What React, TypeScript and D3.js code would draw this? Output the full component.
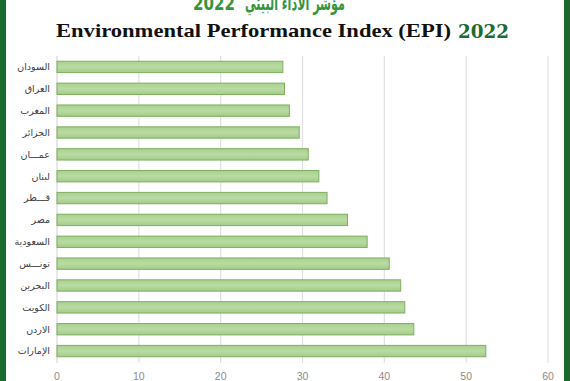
import React from "react";
import * as d3 from "d3";

const categories = [
  "السودان",
  "العراق",
  "المغرب",
  "الجزائر",
  "عمـــان",
  "لبنان",
  "قـــطر",
  "مصر",
  "السعودية",
  "تونـــس",
  "البحرين",
  "الكويت",
  "الاردن",
  "الإمارات",
];
const values = [27.6, 27.8, 28.4, 29.6, 30.7, 32.0, 33.0, 35.5, 37.9, 40.6, 42.0, 42.5, 43.6, 52.4];
const xTicks = [0, 10, 20, 30, 40, 50, 60];
const titleEn = "Environmental Performance Index (EPI)";
const titleYear = "2022";
const titleAr = "مؤشر الأداء البيئي";

export default function App() {
  const W = 570;
  const H = 381;
  const x = d3.scaleLinear().domain([0, 60]).range([57, 548]);
  const y = d3
    .scaleBand<string>()
    .domain(categories)
    .range([56, 362])
    .paddingInner(0.48)
    .paddingOuter(0.24);
  const data = categories.map((c, i) => ({ c, v: values[i] }));

  return (
    <svg
      width={W}
      height={H}
      style={{ position: "absolute", left: 0, top: 0, background: "#fff" }}
    >
      <defs>
        <linearGradient id="barg" x1="0" y1="0" x2="0" y2="1">
          <stop offset="0" stopColor="#a9d18e" />
          <stop offset="0.5" stopColor="#b9dba3" />
          <stop offset="1" stopColor="#a3cc88" />
        </linearGradient>
      </defs>
      <rect x={0} y={0} width={W} height={H} fill="#fff" />
      {/* gridlines */}
      {xTicks.map((t) => (
        <line
          key={"g" + t}
          x1={x(t)}
          x2={x(t)}
          y1={56}
          y2={363}
          stroke={t === 0 ? "#d9d9d9" : "#e0e0e0"}
          strokeWidth={1.2}
        />
      ))}
      {/* bars */}
      {data.map((d) => (
        <rect
          key={d.c}
          x={x(0)}
          y={y(d.c)!}
          width={x(d.v) - x(0)}
          height={y.bandwidth()}
          fill="url(#barg)"
          stroke="#7fae62"
          strokeWidth={1}
        />
      ))}
      {/* category labels */}
      {data.map((d) => (
        <text
          key={"l" + d.c}
          x={50}
          y={y(d.c)! + y.bandwidth() / 2}
          dy="0.35em"
          textAnchor="end"
          fontFamily="'DejaVu Sans', 'Noto Sans', sans-serif"
          fontSize={9.5}
          fill="#404040"
        >
          {d.c}
        </text>
      ))}
      {/* x tick labels */}
      {xTicks.map((t) => (
        <text
          key={"t" + t}
          x={x(t)}
          y={380}
          textAnchor="middle"
          fontFamily="'Liberation Sans', Arial, sans-serif"
          fontSize={10.5}
          fill="#8c8c8c"
        >
          {t}
        </text>
      ))}
      {/* titles */}
      <text
        x={193}
        y={10}
        textLength={42}
        lengthAdjust="spacingAndGlyphs"
        fontFamily="'DejaVu Sans', sans-serif"
        fontWeight="bold"
        fontSize={20}
        fill="#35953f"
      >
        {titleYear}
      </text>
      <text
        x={245}
        y={10}
        textLength={100}
        lengthAdjust="spacingAndGlyphs"
        fontFamily="'DejaVu Sans', sans-serif"
        fontWeight="bold"
        fontSize={20}
        fill="#35953f"
      >
        {titleAr}
      </text>
      <text
        x={56}
        y={37}
        textLength={395}
        lengthAdjust="spacingAndGlyphs"
        fontFamily="'Liberation Serif', 'DejaVu Serif', serif"
        fontWeight="bold"
        fontSize={19}
        fill="#111"
      >
        {titleEn}
      </text>
      <text
        x={458}
        y={38}
        textLength={51}
        lengthAdjust="spacingAndGlyphs"
        fontFamily="'DejaVu Serif', serif"
        fontWeight="bold"
        fontSize={19}
        fill="#1d6a33"
      >
        {titleYear}
      </text>
      {/* green frame */}
      <rect x={0} y={0} width={6} height={H} fill="#1a6a30" />
      <rect x={564} y={0} width={6} height={H} fill="#1a6a30" />
    </svg>
  );
}
